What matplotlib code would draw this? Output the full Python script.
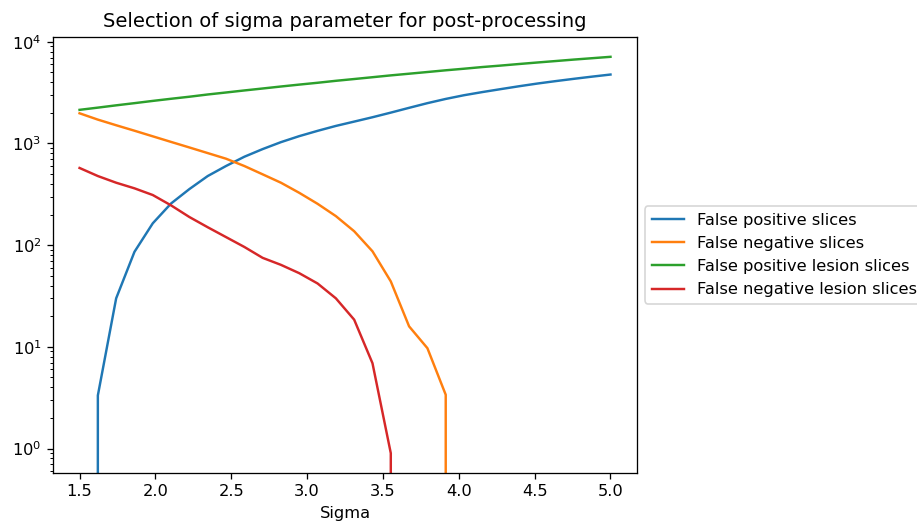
import numpy as np
import matplotlib
matplotlib.use("Agg")
import matplotlib.pyplot as plt

# sigma values tried for post-processing
sigma = np.linspace(1.5, 5.0, 30)

# error counts for each sigma
fp_slices = [0, 3.33, 30, 86, 164, 257, 356, 478, 600, 740,
             880, 1030, 1180, 1330, 1487, 1640, 1810, 2010, 2240, 2490,
             2740, 2980, 3200, 3420, 3650, 3880, 4100, 4320, 4540, 4760]
fn_slices = [1980, 1715, 1510, 1334, 1175, 1035, 913, 804, 708, 600,
             497, 411, 327, 255, 193, 137, 87, 44, 15.9, 9.7,
             3.38, 0, 0, 0, 0, 0, 0, 0, 0, 0]
fp_lesion = [2140, 2250, 2370, 2490, 2620, 2750, 2880, 3030, 3170, 3320,
             3470, 3630, 3790, 3950, 4130, 4300, 4480, 4670, 4850, 5040,
             5240, 5430, 5640, 5830, 6040, 6250, 6460, 6680, 6890, 7110]
fn_lesion = [574, 478, 411, 362, 311, 246, 189, 150, 120, 96,
             75, 64, 53, 42, 30, 18.5, 6.9, 0.9, 0, 0,
             0, 0, 0, 0, 0, 0, 0, 0, 0, 0]

# original was rendered a bit larger, so use a higher dpi on a smaller canvas
dpi = 117
fig = plt.figure(figsize=(917 / dpi, 524 / dpi), dpi=dpi)
ax = fig.add_subplot(111)
fig.subplots_adjust(left=0.0578, right=0.6947, top=0.9294, bottom=0.0973)

ax.plot(sigma, fp_slices, label='False positive slices')
ax.plot(sigma, fn_slices, label='False negative slices')
ax.plot(sigma, fp_lesion, label='False positive lesion slices')
ax.plot(sigma, fn_lesion, label='False negative lesion slices')
ax.set_yscale('log')

ax.set_title('Selection of sigma parameter for post-processing')
ax.set_xlabel('Sigma')
ax.legend(loc='center left', bbox_to_anchor=(1, 0.5))

fig.savefig('out.png', dpi=dpi)
